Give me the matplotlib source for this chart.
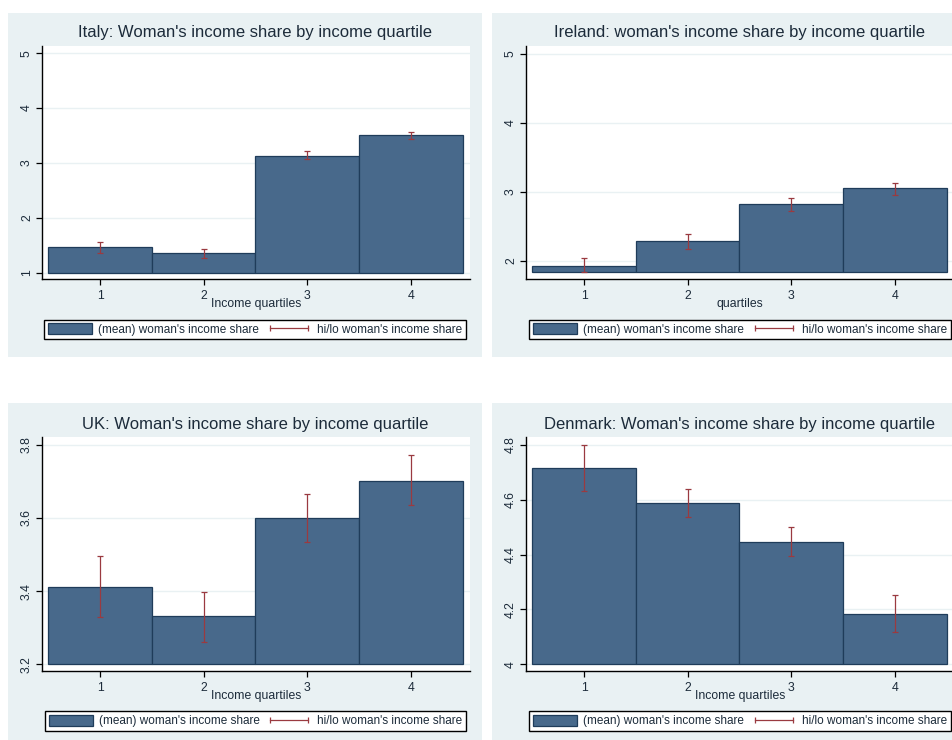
import matplotlib
matplotlib.use("Agg")
import matplotlib.pyplot as plt
from matplotlib.patches import Rectangle, Patch
from matplotlib.lines import Line2D

plt.rcParams['font.family'] = ['Liberation Sans', 'DejaVu Sans']

# ---- data -------------------------------------------------------------
quartiles = [1, 2, 3, 4]
quartile_labels = ["1", "2", "3", "4"]

italy_mean = [1.46, 1.36, 3.13, 3.50]
italy_hi = [1.55, 1.43, 3.21, 3.57]
italy_lo = [1.35, 1.27, 3.08, 3.44]

ireland_mean = [1.93, 2.29, 2.82, 3.05]
ireland_hi = [2.04, 2.385, 2.915, 3.13]
ireland_lo = [1.83, 2.17, 2.72, 2.95]

uk_mean = [3.412, 3.331, 3.601, 3.702]
uk_hi = [3.496, 3.398, 3.666, 3.771]
uk_lo = [3.329, 3.262, 3.535, 3.635]

dk_mean = [4.715, 4.589, 4.446, 4.185]
dk_hi = [4.800, 4.639, 4.500, 4.252]
dk_lo = [4.630, 4.535, 4.395, 4.119]

titles = [
    "Italy: Woman's income share by income quartile",
    "Ireland: woman's income share by income quartile",
    "UK: Woman's income share by income quartile",
    "Denmark: Woman's income share by income quartile",
]
xlabels = ["Income quartiles", "quartiles", "Income quartiles", "Income quartiles"]
yticks = [
    [1, 2, 3, 4, 5],
    [2, 3, 4, 5],
    [3.2, 3.4, 3.6, 3.8],
    [4, 4.2, 4.4, 4.6, 4.8],
]
ytick_labels = [
    ["1", "2", "3", "4", "5"],
    ["2", "3", "4", "5"],
    ["3.2", "3.4", "3.6", "3.8"],
    ["4", "4.2", "4.4", "4.6", "4.8"],
]
bar_base = [1.0, 1.83, 3.2, 4.0]
mean_label = "(mean) woman's income share"
hilo_label = "hi/lo woman's income share"

series = [
    (italy_mean, italy_hi, italy_lo),
    (ireland_mean, ireland_hi, ireland_lo),
    (uk_mean, uk_hi, uk_lo),
    (dk_mean, dk_hi, dk_lo),
]

# ---- layout (pixels) --------------------------------------------------
W, H = 953, 740
BAR = "#48698b"
BAR_EDGE = "#1f3c5a"
ERR = "#9a3a40"
REGION = "#e9f1f3"
GRID = "#e9f1f3"
TXT = "#1c2b3a"

panels = [(8, 12.5, 482, 357), (492, 12.5, 962, 357),
          (8, 403, 482, 750), (492, 403, 962, 750)]
axes_px = [(42, 46, 470, 279), (526, 46, 954, 279),
           (42, 437, 470, 671), (526, 437, 954, 671)]
ylims = [(0.885, 5.13), (1.735, 5.11), (3.182, 3.821), (3.976, 4.828)]
title_px = [(255, 33), (740, 33), (255, 424.5), (740, 424.5)]
legend_px = [(44, 318, 466, 341), (529, 318, 951, 341),
             (45, 710, 466, 732), (529, 710, 951, 732)]


def fx(x):
    return x / W


def fy(y):
    return 1 - y / H


fig = plt.figure(figsize=(W / 100, H / 100), dpi=100)
fig.patch.set_facecolor("white")

for i in range(4):
    px0, py0, px1, py1 = panels[i]
    fig.patches.append(Rectangle((fx(px0), fy(py1)), fx(px1 - px0), (py1 - py0) / H,
                                 transform=fig.transFigure, facecolor=REGION,
                                 edgecolor="none", zorder=-5))

    l, t, r, b = axes_px[i]
    ax = fig.add_axes([fx(l), fy(b), fx(r - l), (b - t) / H])
    ax.set_zorder(1)
    ax.set_facecolor("white")
    mean, hi, lo = series[i]
    base = bar_base[i]

    ax.bar(quartiles, [m - base for m in mean], bottom=base, width=1.0,
           color=BAR, edgecolor=BAR_EDGE, linewidth=0.9, zorder=2)
    yerr = [[m - lo_ for m, lo_ in zip(mean, lo)], [h - m for m, h in zip(mean, hi)]]
    ax.errorbar(quartiles, mean, yerr=yerr, fmt="none", ecolor=ERR,
                elinewidth=0.9, capsize=2.4, capthick=0.9, zorder=3)

    ax.set_xlim(0.44, 4.57)
    ax.set_ylim(*ylims[i])
    ax.set_xticks(quartiles)
    ax.set_xticklabels(quartile_labels)
    ax.set_yticks(yticks[i])
    ax.set_yticklabels(ytick_labels[i], rotation=90, va="center")
    ax.yaxis.grid(True, color=GRID, linewidth=1.0, zorder=0)
    ax.set_axisbelow(True)

    for s in ("top", "right"):
        ax.spines[s].set_visible(False)
    for s in ("left", "bottom"):
        ax.spines[s].set_color("black")
        ax.spines[s].set_linewidth(1.0)
    ax.tick_params(axis="both", length=4, width=0.9, color="black",
                   labelsize=8.8, labelcolor=TXT)
    ax.tick_params(axis="y", pad=2.5)
    ax.tick_params(axis="x", pad=4)

    ax.set_xlabel(xlabels[i], fontsize=8.8, color=TXT)
    ax.xaxis.set_label_coords(0.5, -(304 - 279) / (b - t))
    ax.xaxis.label.set_va("center")

    tx, ty = title_px[i]
    fig.text(fx(tx), fy(ty), titles[i], ha="center", va="center",
             fontsize=12, color=TXT)

    lx0, ly0, lx1, ly1 = legend_px[i]
    handles = [
        Patch(facecolor=BAR, edgecolor=BAR_EDGE, linewidth=0.9),
        Line2D([0, 1], [0, 0], color=ERR, linewidth=0.9, marker="|",
               markersize=5, markeredgewidth=0.9),
    ]
    leg = ax.legend(handles, [mean_label, hilo_label], ncol=2,
                    loc="center left",
                    bbox_to_anchor=(fx(lx0), fy(ly1), fx(lx1 - lx0), (ly1 - ly0) / H),
                    bbox_transform=fig.transFigure, mode="expand",
                    frameon=True, fancybox=False, framealpha=1,
                    edgecolor="black", facecolor="white", borderaxespad=0,
                    fontsize=8.5, handlelength=3.8, handleheight=1.1,
                    handletextpad=0.5, columnspacing=0.6, borderpad=0.3,
                    numpoints=2, labelcolor=TXT)
    leg.get_frame().set_linewidth(1.0)

fig.savefig("out.png", dpi=100, facecolor="white")
